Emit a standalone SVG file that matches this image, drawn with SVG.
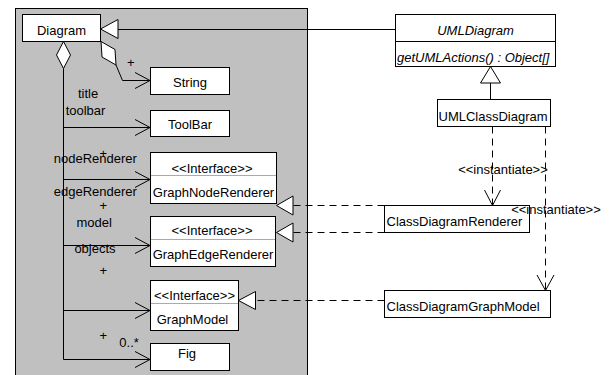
<svg xmlns="http://www.w3.org/2000/svg" width="610" height="375" viewBox="0 0 610 375">
  <style>
    text { font-family: "Liberation Sans", Arial, sans-serif; font-size: 13px; fill: #000; }
    .mid { text-anchor: middle; }
    .it { font-style: italic; }
    .box { fill: #fff; stroke: #000; stroke-width: 1; }
    .div { stroke: #aaa; stroke-width: 1; }
    .ln { fill: none; stroke: #000; stroke-width: 1; }
    .dash { fill: none; stroke: #000; stroke-width: 1; stroke-dasharray: 7 5; }
    .hollow { fill: #fff; stroke: #000; stroke-width: 1; }
  </style>

  <rect width="610" height="375" fill="#fff"/>
  <!-- package area -->
  <rect x="15.5" y="8.5" width="292" height="380" fill="#c0c0c0" stroke="#000" stroke-width="1"/>

  <g id="connectors">
    <!-- Diagram generalizes to UMLDiagram -->
    <path class="ln" d="M118 29.5 H395.5"/>
    <polygon class="hollow" points="100.5,29 118,19.5 118,38.5"/>

    <!-- UMLClassDiagram generalizes to UMLDiagram -->
    <path class="ln" d="M490.5 83 V99.5"/>
    <polygon class="hollow" points="490.5,66.5 480.5,83 500.5,83"/>

    <!-- aggregation Diagram to String -->
    <polygon class="hollow" points="101,41.5 115,49.5 116,65 102,57"/>
    <path class="ln" d="M116 65 L122.5 80.5 H150"/>
    <path class="ln" d="M135 72.5 L150 80.5 L135 88.5"/>

    <!-- aggregation Diagram to members -->
    <polygon class="hollow" points="63.5,41.5 70.5,55 63.5,68.5 56.5,55"/>
    <path class="ln" d="M63.5 68.5 V359.5 M63.5 127.5 H150 M63.5 179.5 H150 M63.5 245.5 H150 M63.5 310.5 H150 M63.5 359.5 H150"/>
    <path class="ln" d="M135 119.5 L150 127.5 L135 135.5 M135 171.5 L150 179.5 L135 187.5 M135 237.5 L150 245.5 L135 253.5 M135 302.5 L150 310.5 L135 318.5 M135 351.5 L150 359.5 L135 367.5"/>

    <!-- realizations -->
    <path class="dash" d="M384.5 205.5 H293"/>
    <polygon class="hollow" points="276.5,205.5 293,196 293,215"/>
    <path class="dash" d="M384.5 232.5 H293"/>
    <polygon class="hollow" points="276.5,232.5 293,223 293,242"/>
    <path class="dash" d="M384.5 300.5 H255.5"/>
    <polygon class="hollow" points="238.5,300.5 255.5,291.5 255.5,309.5"/>

    <!-- instantiate dependencies -->
    <path class="dash" d="M492.5 126.5 V205"/>
    <path class="ln" d="M484.5 190 L492.5 205.5 L500.5 190"/>
    <path class="dash" d="M545.5 126.5 V290"/>
    <path class="ln" d="M537 275 L545.5 290.5 L554 275"/>
  </g>

  <g id="diagram">
    <rect class="box" x="22.5" y="14.5" width="78" height="27"/>
    <text class="mid" x="61.5" y="34.5">Diagram</text>
  </g>

  <g id="string">
    <rect class="box" x="150.5" y="67.5" width="79" height="27"/>
    <text class="mid" x="190" y="87">String</text>
  </g>

  <g id="toolbar">
    <rect class="box" x="150.5" y="110.5" width="79" height="26"/>
    <text class="mid" x="190" y="129">ToolBar</text>
  </g>

  <g id="graphNodeRenderer">
    <rect class="box" x="150.5" y="152.5" width="126" height="51"/>
    <line class="div" x1="151" y1="175.5" x2="276" y2="175.5"/>
    <text class="mid" x="212" y="173">&lt;&lt;Interface&gt;&gt;</text>
    <text class="mid" x="213.5" y="197">GraphNodeRenderer</text>
  </g>

  <g id="graphEdgeRenderer">
    <rect class="box" x="150.5" y="216.5" width="125" height="50"/>
    <line class="div" x1="151" y1="239.5" x2="275" y2="239.5"/>
    <text class="mid" x="212" y="235">&lt;&lt;Interface&gt;&gt;</text>
    <text class="mid" x="213" y="258.5">GraphEdgeRenderer</text>
  </g>

  <g id="graphModel">
    <rect class="box" x="150.5" y="280.5" width="88" height="50"/>
    <line class="div" x1="151" y1="303.5" x2="238" y2="303.5"/>
    <text class="mid" x="194.5" y="300">&lt;&lt;Interface&gt;&gt;</text>
    <text class="mid" x="192.5" y="323.5">GraphModel</text>
  </g>

  <g id="fig">
    <rect class="box" x="150.5" y="343.5" width="79" height="27"/>
    <text class="mid" x="187" y="358">Fig</text>
  </g>

  <g id="umlDiagram">
    <rect class="box" x="395.5" y="14.5" width="160" height="52"/>
    <line class="ln" x1="395.5" y1="41.5" x2="555.5" y2="41.5"/>
    <text class="mid it" x="475.5" y="35">UMLDiagram</text>
    <text class="it" x="397" y="62">getUMLActions() : Object[]</text>
  </g>

  <g id="umlClassDiagram">
    <rect class="box" x="437.5" y="99.5" width="113" height="27"/>
    <text x="438.5" y="120.5">UMLClassDiagram</text>
  </g>

  <g id="classDiagramRenderer">
    <rect class="box" x="384.5" y="205.5" width="145" height="27"/>
    <text x="386.5" y="226">ClassDiagramRenderer</text>
  </g>

  <g id="classDiagramGraphModel">
    <rect class="box" x="384.5" y="290.5" width="166" height="27"/>
    <text x="386.5" y="310.5">ClassDiagramGraphModel</text>
  </g>

  <!-- role, multiplicity and stereotype labels on the connectors -->
  <g id="labels">
    <text class="mid" x="130.7" y="66.6">+</text>
    <text class="mid" x="88" y="97.5">title</text>
    <text class="mid" x="85.5" y="115">toolbar</text>
    <text class="mid" x="95.3" y="162.5">nodeRenderer</text>
    <text class="mid" x="103.3" y="157.6">+</text>
    <text class="mid" x="95.3" y="196">edgeRenderer</text>
    <text class="mid" x="103.3" y="210">+</text>
    <text class="mid" x="94.2" y="227.3">model</text>
    <text class="mid" x="95" y="253.3">objects</text>
    <text class="mid" x="103.3" y="275.3">+</text>
    <text class="mid" x="103.3" y="340">+</text>
    <text x="119.3" y="347.3">0..*</text>
    <text class="mid" x="503" y="174">&lt;&lt;instantiate&gt;&gt;</text>
    <text class="mid" x="556" y="214.3">&lt;&lt;instantiate&gt;&gt;</text>
  </g>
</svg>
